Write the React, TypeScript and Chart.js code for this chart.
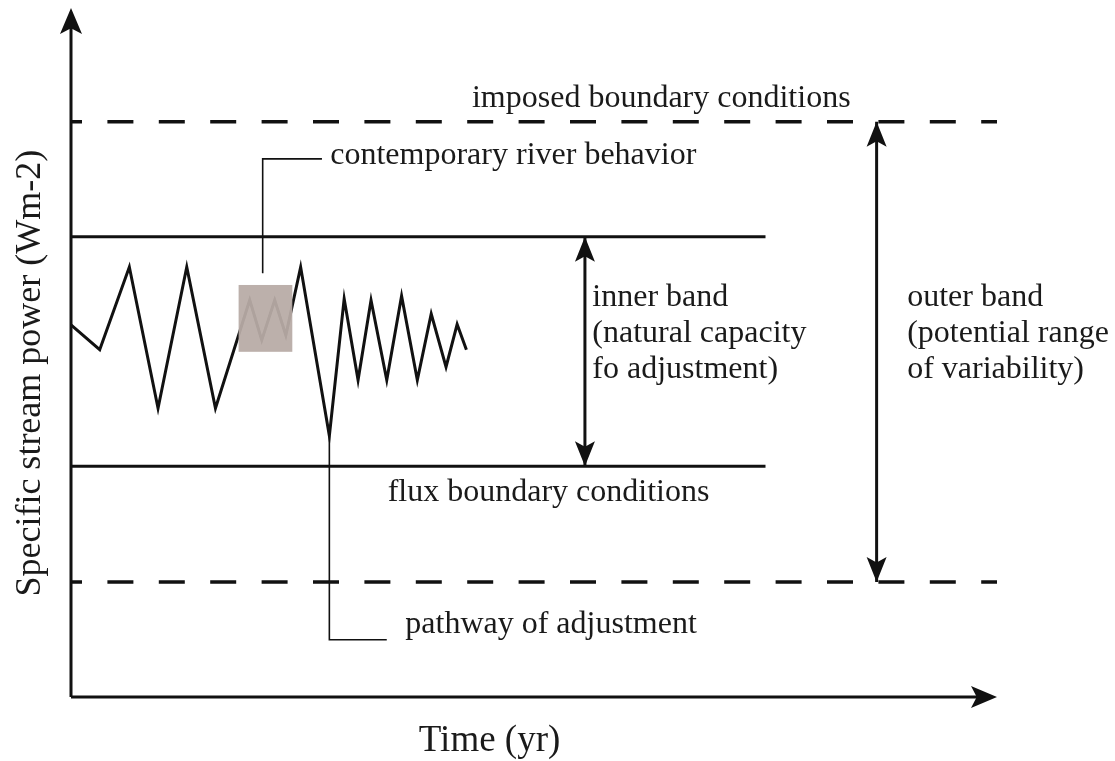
import React, { useEffect, useRef } from "react";
import { Chart, registerables } from "chart.js";

Chart.register(...registerables);

// ---- data (time in arbitrary units 0..100, stream power in arbitrary units 0..100) ----
const pathTime = [0, 3.1, 6.3, 9.4, 12.5, 15.6, 19.3, 20.6, 22.0, 23.2, 24.8, 27.9, 29.5, 31.0, 32.4, 34.1, 35.7, 37.4, 38.9, 40.5, 41.7, 42.7];
const pathPower = [54.0, 50.4, 62.4, 41.9, 62.4, 41.9, 57.6, 51.8, 57.6, 52.5, 62.4, 37.9, 57.8, 46.0, 57.6, 46.0, 58.2, 46.0, 55.6, 47.9, 54.1, 50.4];

const outerBand = [16.7, 83.5]; // imposed boundary conditions
const innerBand = [33.5, 66.8]; // flux boundary conditions
const innerBandEnd = 75;
const timeMax = 100;
const powerMax = 100;

const boxTime = [18.1, 23.9];
const boxPower = [50.1, 59.8];

const contemporaryLeaderTime = [20.7, 20.7, 27.1];
const contemporaryLeaderPower = [61.5, 78.1, 78.1];
const pathwayLeaderTime = [27.9, 27.9, 34.1];
const pathwayLeaderPower = [37.9, 8.3, 8.3];

const innerArrowTime = 55.5;
const outerArrowTime = 87.0;

const labelTexts = [
  "imposed boundary conditions",
  "contemporary river behavior",
  "inner band",
  "(natural capacity",
  "fo adjustment)",
  "outer band",
  "(potential range",
  "of variability)",
  "flux boundary conditions",
  "pathway of adjustment",
];
const labelTime = [43.3, 28.0, 56.3, 56.3, 56.3, 90.3, 90.3, 90.3, 34.2, 36.1];
const labelPower = [85.6, 77.4, 56.7, 51.5, 46.3, 56.7, 51.5, 46.3, 28.4, 9.3];

const xTitle = "Time (yr)";
const yTitle = "Specific stream power (Wm-2)";

const toPts = (xs: number[], ys: number[]) => xs.map((x, i) => ({ x, y: ys[i] }));

function arrowHead(ctx: CanvasRenderingContext2D, tx: number, ty: number, angle: number, len: number, wid: number) {
  ctx.save();
  ctx.translate(tx, ty);
  ctx.rotate(angle);
  ctx.beginPath();
  ctx.moveTo(0, 0);
  ctx.lineTo(-len, -wid / 2);
  ctx.lineTo(-len * 0.78, 0);
  ctx.lineTo(-len, wid / 2);
  ctx.closePath();
  ctx.fill();
  ctx.restore();
}

const diagramPlugin = {
  id: "diagram",
  afterDatasetsDraw(chart: any) {
    const { ctx, scales } = chart;
    const xs = scales.x;
    const ys = scales.y;
    const px = (v: number) => xs.getPixelForValue(v);
    const py = (v: number) => ys.getPixelForValue(v);
    ctx.save();
    // shaded box of contemporary behaviour
    ctx.fillStyle = "rgba(184,171,166,0.94)";
    const bx0 = px(boxTime[0]);
    const bx1 = px(boxTime[1]);
    const by0 = py(boxPower[1]);
    const by1 = py(boxPower[0]);
    ctx.fillRect(bx0, by0, bx1 - bx0, by1 - by0);

    ctx.fillStyle = "#111";
    // axis arrowheads
    arrowHead(ctx, px(0), py(powerMax), -Math.PI / 2, 26, 22);
    arrowHead(ctx, px(timeMax), py(0), 0, 26, 22);
    // band arrows
    arrowHead(ctx, px(innerArrowTime), py(innerBand[1]), -Math.PI / 2, 25, 20);
    arrowHead(ctx, px(innerArrowTime), py(innerBand[0]), Math.PI / 2, 25, 20);
    arrowHead(ctx, px(outerArrowTime), py(outerBand[1]), -Math.PI / 2, 25, 20);
    arrowHead(ctx, px(outerArrowTime), py(outerBand[0]), Math.PI / 2, 25, 20);

    // annotation texts
    ctx.fillStyle = "#1a1a1a";
    ctx.textBaseline = "alphabetic";
    ctx.textAlign = "left";
    ctx.font = "32px 'Liberation Serif'";
    labelTexts.forEach((t, i) => {
      ctx.fillText(t, px(labelTime[i]), py(labelPower[i]));
    });

    // axis titles
    ctx.font = "37px 'Liberation Serif'";
    ctx.textAlign = "center";
    ctx.fillText(xTitle, px(45.2), py(-7.8));

    ctx.save();
    ctx.translate(px(-4.4), py(47));
    ctx.rotate(-Math.PI / 2);
    ctx.font = "36px 'Liberation Serif'";
    ctx.textAlign = "center";
    ctx.textBaseline = "middle";
    ctx.fillText(yTitle, 0, 0);
    ctx.restore();

    ctx.restore();
  },
};

export default function App() {
  const ref = useRef<HTMLCanvasElement>(null);
  useEffect(() => {
    document.body.style.margin = "0";
    const black = "#111";
    const line = (data: any[], width: number, dash: number[] = [], offset = 0) => ({
      data,
      borderColor: black,
      borderWidth: width,
      borderDash: dash,
      borderDashOffset: offset,
      pointRadius: 0,
      tension: 0,
      fill: false,
      clip: false,
      borderCapStyle: "butt",
      borderJoinStyle: "miter",
    });
    const chart = new Chart(ref.current!, {
      type: "line",
      data: {
        datasets: [
          line(toPts([0, 0], [0, powerMax - 2]), 3),
          line(toPts([0, timeMax - 2], [0, 0]), 3),
          line(toPts([0, timeMax], [outerBand[1], outerBand[1]]), 3.5, [26, 25.4], 15),
          line(toPts([0, timeMax], [outerBand[0], outerBand[0]]), 3.5, [26, 25.4], 15),
          line(toPts([0, innerBandEnd], [innerBand[1], innerBand[1]]), 3),
          line(toPts([0, innerBandEnd], [innerBand[0], innerBand[0]]), 3),
          line(toPts([innerArrowTime, innerArrowTime], innerBand), 3),
          line(toPts([outerArrowTime, outerArrowTime], outerBand), 3),
          line(toPts(contemporaryLeaderTime, contemporaryLeaderPower), 1.6),
          line(toPts(pathwayLeaderTime, pathwayLeaderPower), 1.6),
          line(toPts(pathTime, pathPower), 3),
        ] as any,
      },
      options: {
        animation: false,
        responsive: false,
        devicePixelRatio: 1,
        layout: { padding: { left: 71, right: 118, top: 8, bottom: 64 } },
        scales: {
          x: { type: "linear", min: 0, max: timeMax, display: false },
          y: { type: "linear", min: 0, max: powerMax, display: false },
        },
        plugins: { legend: { display: false }, tooltip: { enabled: false } },
        events: [],
      },
      plugins: [diagramPlugin],
    } as any);
    return () => chart.destroy();
  }, []);
  return (
    <div style={{ position: "absolute", left: 0, top: 0, width: 1115, height: 761, background: "#fff" }}>
      <canvas ref={ref} width={1115} height={761} style={{ display: "block", width: 1115, height: 761 }} />
    </div>
  );
}
